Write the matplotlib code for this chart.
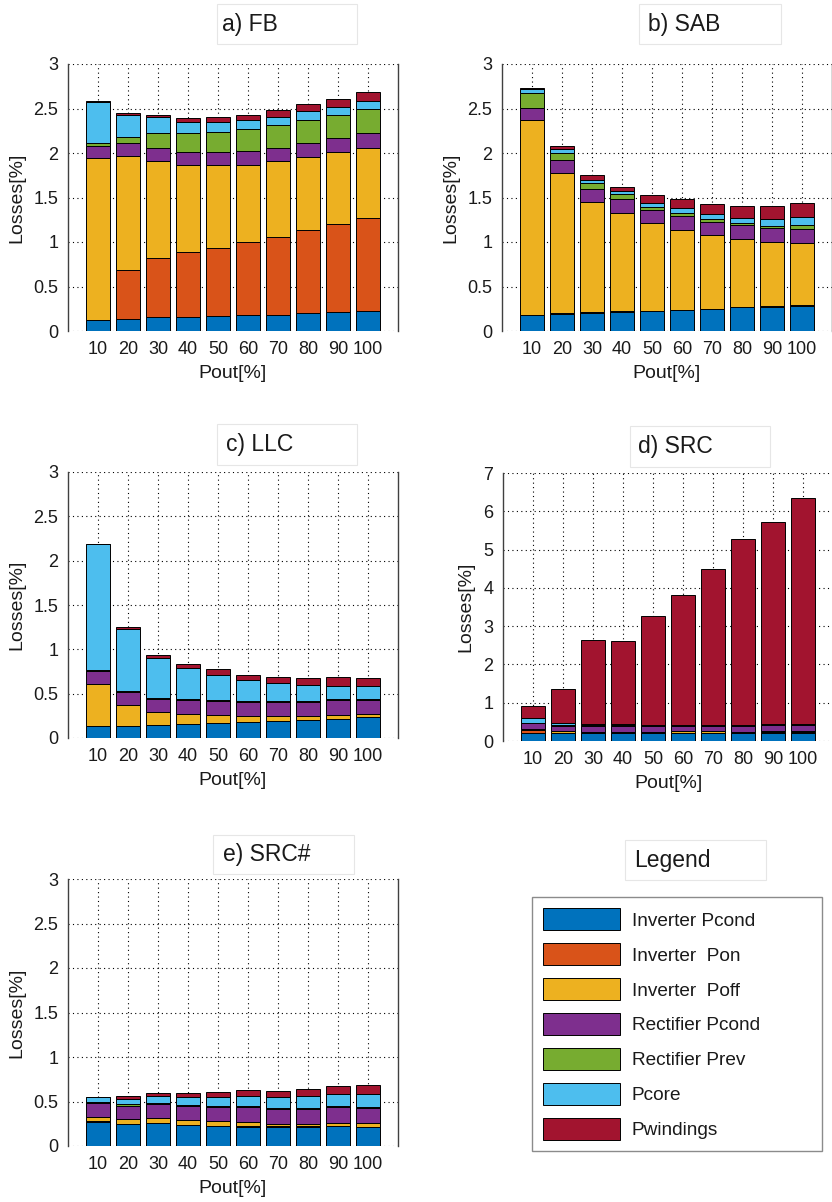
import numpy as np
import matplotlib
matplotlib.use('Agg')
from matplotlib import pyplot as plt
from matplotlib.patches import Rectangle

plt.rcParams['font.family'] = ['Liberation Sans', 'DejaVu Sans']

pout = [10, 20, 30, 40, 50, 60, 70, 80, 90, 100]
components = ['Inverter Pcond', 'Inverter  Pon', 'Inverter  Poff', 'Rectifier Pcond',
              'Rectifier Prev', 'Pcore', 'Pwindings']
colors = ['#0072BD', '#D95319', '#EDB120', '#7E2F8E', '#77AC30', '#4DBEEE', '#A2142F']

# a) FB
fb_inv_cond = [0.12, 0.135, 0.155, 0.155, 0.165, 0.175, 0.185, 0.20, 0.215, 0.225]
fb_inv_on = [0.0, 0.555, 0.665, 0.73, 0.77, 0.82, 0.87, 0.94, 0.985, 1.04]
fb_inv_off = [1.82, 1.28, 1.09, 0.985, 0.925, 0.875, 0.855, 0.82, 0.81, 0.795]
fb_rec_cond = [0.14, 0.14, 0.15, 0.14, 0.15, 0.15, 0.15, 0.15, 0.155, 0.16]
fb_rec_rev = [0.03, 0.07, 0.16, 0.21, 0.23, 0.25, 0.25, 0.26, 0.265, 0.27]
fb_core = [0.46, 0.25, 0.18, 0.13, 0.11, 0.10, 0.10, 0.10, 0.09, 0.09]
fb_wind = [0.01, 0.02, 0.03, 0.04, 0.05, 0.06, 0.07, 0.08, 0.09, 0.11]

# b) SAB
sab_inv_cond = [0.18, 0.195, 0.205, 0.215, 0.225, 0.235, 0.245, 0.265, 0.275, 0.285]
sab_inv_on = [0.005, 0.005, 0.005, 0.005, 0.005, 0.005, 0.005, 0.005, 0.005, 0.005]
sab_inv_off = [2.185, 1.57, 1.24, 1.11, 0.98, 0.89, 0.83, 0.765, 0.725, 0.70]
sab_rec_cond = [0.14, 0.15, 0.15, 0.15, 0.145, 0.16, 0.145, 0.155, 0.15, 0.155]
sab_rec_rev = [0.16, 0.08, 0.06, 0.055, 0.04, 0.04, 0.03, 0.025, 0.025, 0.045]
sab_core = [0.05, 0.04, 0.04, 0.04, 0.045, 0.055, 0.06, 0.06, 0.075, 0.095]
sab_wind = [0.01, 0.035, 0.05, 0.045, 0.085, 0.10, 0.11, 0.135, 0.145, 0.155]

# c) LLC
llc_inv_cond = [0.13, 0.13, 0.146, 0.161, 0.169, 0.18, 0.191, 0.199, 0.214, 0.232]
llc_inv_on = [0.0, 0.0, 0.0, 0.0, 0.0, 0.0, 0.0, 0.0, 0.0, 0.0]
llc_inv_off = [0.48, 0.24, 0.143, 0.109, 0.09, 0.067, 0.056, 0.048, 0.045, 0.038]
llc_rec_cond = [0.145, 0.147, 0.15, 0.154, 0.153, 0.154, 0.154, 0.154, 0.165, 0.161]
llc_rec_rev = [0.015, 0.013, 0.011, 0.011, 0.012, 0.011, 0.011, 0.011, 0.011, 0.012]
llc_core = [1.415, 0.70, 0.457, 0.349, 0.281, 0.237, 0.207, 0.184, 0.157, 0.145]
llc_wind = [0.005, 0.02, 0.03, 0.052, 0.071, 0.056, 0.067, 0.079, 0.094, 0.087]

# d) SRC
src_inv_cond = [0.21, 0.21, 0.21, 0.21, 0.21, 0.21, 0.21, 0.21, 0.21, 0.22]
src_inv_on = [0.09, 0.01, 0.01, 0.01, 0.01, 0.01, 0.01, 0.01, 0.03, 0.01]
src_inv_off = [0.01, 0.03, 0.02, 0.02, 0.02, 0.03, 0.03, 0.02, 0.02, 0.03]
src_rec_cond = [0.16, 0.14, 0.15, 0.15, 0.15, 0.14, 0.14, 0.14, 0.15, 0.15]
src_rec_rev = [0.0, 0.03, 0.02, 0.02, 0.02, 0.03, 0.03, 0.02, 0.03, 0.03]
src_core = [0.14, 0.06, 0.03, 0.03, 0.01, 0.01, 0.01, 0.01, 0.01, 0.01]
src_wind = [0.295, 0.89, 2.19, 2.16, 2.85, 3.38, 4.055, 4.86, 5.265, 5.885]

# e) SRC#
srcs_inv_cond = [0.274, 0.244, 0.255, 0.232, 0.225, 0.217, 0.217, 0.217, 0.225, 0.21]
srcs_inv_on = [0.005, 0.005, 0.005, 0.005, 0.005, 0.005, 0.005, 0.005, 0.005, 0.005]
srcs_inv_off = [0.05, 0.05, 0.05, 0.055, 0.051, 0.044, 0.029, 0.029, 0.032, 0.04]
srcs_rec_cond = [0.15, 0.155, 0.158, 0.162, 0.154, 0.169, 0.169, 0.169, 0.177, 0.172]
srcs_rec_rev = [0.015, 0.015, 0.015, 0.011, 0.011, 0.011, 0.011, 0.011, 0.011, 0.013]
srcs_core = [0.055, 0.064, 0.078, 0.086, 0.105, 0.116, 0.12, 0.131, 0.131, 0.14]
srcs_wind = [0.005, 0.026, 0.03, 0.041, 0.053, 0.068, 0.064, 0.075, 0.094, 0.11]

W, H = 832, 1202


def fig_rect(left, top, right, bottom):
    return [left / W, 1 - bottom / H, (right - left) / W, (bottom - top) / H]


def title_box(fig, text, left, top, right, bottom, text_x):
    fig.patches.append(Rectangle((left / W, 1 - bottom / H), (right - left) / W,
                                 (bottom - top) / H, transform=fig.transFigure,
                                 facecolor='white', edgecolor='#e6e6e6', linewidth=0.8))
    fig.text(text_x / W, 1 - (top + bottom) / 2 / H, text, fontsize=16.5,
             ha='left', va='center', color='#1a1a1a')


def draw_panel(ax, series, ymax, yticks, yticklabels):
    x = np.arange(1, len(pout) + 1)
    bottom = np.zeros(len(pout))
    handles = []
    for vals, c, lab in zip(series, colors, components):
        vals = np.array(vals)
        h = ax.bar(x, vals, 0.8, bottom=bottom, color=c, edgecolor='black',
                   linewidth=0.7, label=lab, zorder=2)
        handles.append(h)
        bottom += vals
    ax.set_xlim(0, 11)
    ax.set_ylim(0, ymax)
    ax.set_xticks(x)
    ax.set_xticklabels([str(p) for p in pout], fontsize=13)
    ax.set_yticks(yticks)
    ax.set_yticklabels(yticklabels, fontsize=13)
    ax.grid(True, color='black', linestyle=(0, (1, 3)), linewidth=0.8)
    ax.set_axisbelow(True)
    ax.tick_params(length=0, pad=7, colors='#1a1a1a')
    for s in ['top', 'bottom']:
        ax.spines[s].set_visible(False)
    for s in ['left', 'right']:
        ax.spines[s].set_color('#404040')
        ax.spines[s].set_linewidth(1.0)
    ax.set_xlabel('Pout[%]', fontsize=14, color='#1a1a1a', labelpad=5)
    ax.set_ylabel('Losses[%]', fontsize=14, color='#1a1a1a', labelpad=6)
    return handles


fig = plt.figure(figsize=(W / 100, H / 100), dpi=100)

t3 = [0, 0.5, 1, 1.5, 2, 2.5, 3]
t3l = ['0', '0.5', '1', '1.5', '2', '2.5', '3']

ax_a = fig.add_axes(fig_rect(68, 64, 398, 331))
handles = draw_panel(ax_a, [fb_inv_cond, fb_inv_on, fb_inv_off, fb_rec_cond,
                            fb_rec_rev, fb_core, fb_wind], 3, t3, t3l)

ax_b = fig.add_axes(fig_rect(502, 64, 832, 331))
draw_panel(ax_b, [sab_inv_cond, sab_inv_on, sab_inv_off, sab_rec_cond,
                  sab_rec_rev, sab_core, sab_wind], 3, t3, t3l)

ax_c = fig.add_axes(fig_rect(68, 472, 398, 738))
draw_panel(ax_c, [llc_inv_cond, llc_inv_on, llc_inv_off, llc_rec_cond,
                  llc_rec_rev, llc_core, llc_wind], 3, t3, t3l)

ax_d = fig.add_axes(fig_rect(503, 473, 833, 741))
t7 = list(range(8))
draw_panel(ax_d, [src_inv_cond, src_inv_on, src_inv_off, src_rec_cond,
                  src_rec_rev, src_core, src_wind], 7, t7, [str(v) for v in t7])

ax_e = fig.add_axes(fig_rect(68, 879, 398, 1146))
draw_panel(ax_e, [srcs_inv_cond, srcs_inv_on, srcs_inv_off, srcs_rec_cond,
                  srcs_rec_rev, srcs_core, srcs_wind], 3, t3, t3l)

title_box(fig, 'a) FB', 217, 4, 357, 44, 222)
title_box(fig, 'b) SAB', 639, 4, 781, 44, 648)
title_box(fig, 'c) LLC', 217, 424, 357, 465, 226)
title_box(fig, 'd) SRC', 630, 426, 770, 467, 638)
title_box(fig, 'e) SRC#', 213, 835, 354, 874, 223)
title_box(fig, 'Legend', 625, 840, 766, 880, 634)

leg = fig.legend(handles, components, loc='upper left', mode='expand',
                 bbox_to_anchor=(532 / W, 1 - 1147 / H, 290 / W, 250 / H),
                 fontsize=13.7, handlelength=4.0, handleheight=1.4,
                 labelspacing=0.68, handletextpad=0.65, borderpad=0.6,
                 borderaxespad=0.0, fancybox=False, frameon=True)
leg.get_frame().set_edgecolor('#6e6e6e')
leg.get_frame().set_linewidth(1.0)
for t in leg.get_texts():
    t.set_color('#1a1a1a')

plt.savefig('out.png', dpi=100)
